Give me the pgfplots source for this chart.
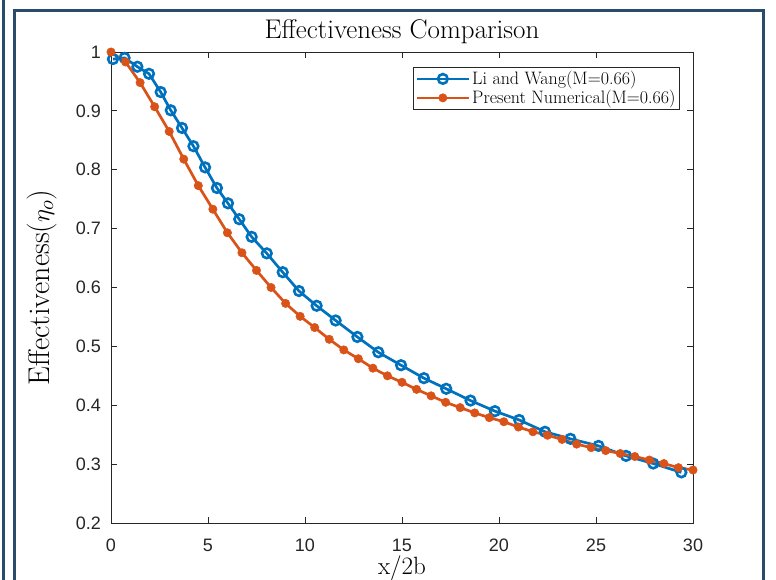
\documentclass[border=0pt]{standalone}
\usepackage{fontspec}
\usepackage{pgfplots}
\pgfplotsset{compat=1.18}
\newfontfamily\arial{Liberation Sans}
\definecolor{mblue}{RGB}{0,114,189}
\definecolor{morange}{RGB}{217,83,25}
\definecolor{framec}{RGB}{43,75,107}
\definecolor{axgray}{RGB}{38,38,38}

\pgfplotstableread{
x y
0.10 0.988
0.70 0.990
1.36 0.975
1.96 0.963
2.56 0.932
3.08 0.901
3.66 0.871
4.25 0.840
4.85 0.804
5.46 0.769
6.03 0.743
6.61 0.716
7.25 0.686
8.03 0.658
8.85 0.626
9.69 0.594
10.60 0.569
11.58 0.544
12.70 0.516
13.78 0.490
14.95 0.468
16.13 0.446
17.28 0.428
18.53 0.408
19.79 0.390
21.04 0.375
22.37 0.355
23.68 0.343
25.13 0.331
26.55 0.314
27.95 0.301
29.40 0.286
}\liwang

\pgfplotstableread{
x y
0.00 1.000
0.75 0.983
1.50 0.948
2.25 0.907
3.00 0.865
3.75 0.818
4.50 0.773
5.25 0.733
6.00 0.693
6.75 0.659
7.50 0.629
8.25 0.600
9.00 0.573
9.75 0.551
10.50 0.532
11.25 0.512
12.00 0.494
12.75 0.479
13.50 0.463
14.25 0.450
15.00 0.439
15.75 0.427
16.50 0.416
17.25 0.405
18.00 0.396
18.75 0.387
19.50 0.379
20.25 0.372
21.00 0.363
21.75 0.355
22.50 0.349
23.25 0.342
24.00 0.334
24.75 0.328
25.50 0.323
26.25 0.318
27.00 0.313
27.75 0.307
28.50 0.301
29.25 0.294
30.00 0.290
}\present

\begin{document}
\begin{tikzpicture}[x=1pt,y=1pt]
\path[use as bounding box] (0,0) rectangle (776,-580);
\fill[white] (0,0) rectangle (776,-580);
\draw[framec, line width=3pt] (3.5,0) -- (3.5,-580);
\draw[framec, line width=3pt] (14.5,-585) -- (14.5,-10.5) -- (763.5,-10.5) -- (763.5,-585);
\begin{axis}[
  at={(111pt,-523pt)}, anchor=south west,
  width=582pt, height=471pt, scale only axis,
  xmin=0, xmax=30, ymin=0.2, ymax=1,
  xtick={0,5,10,15,20,25,30},
  xticklabels={0,5,10,15,20,25,30},
  ytick={0.2,0.3,0.4,0.5,0.6,0.7,0.8,0.9,1},
  yticklabels={0.2,0.3,0.4,0.5,0.6,0.7,0.8,0.9,1},
  tick align=inside,
  xtick pos=both, ytick pos=both,
  xticklabel pos=lower, yticklabel pos=left,
  major tick length=6pt,
  axis line style={axgray, line width=0.9pt},
  every tick/.style={axgray, line width=0.9pt},
  tick label style={font=\arial\fontsize{18}{18}\selectfont, text=axgray, inner sep=0pt},
  xticklabel style={anchor=base, yshift=-28pt},
  yticklabel style={anchor=east, xshift=-10pt},
  title={Effectiveness Comparison},
  title style={font=\fontsize{27}{30}\selectfont, text=black, at={(axis description cs:0.5,1)}, anchor=base, yshift=8pt},
  xlabel={x/2b},
  ylabel={Effectiveness($\eta_o$)},
  xlabel style={font=\fontsize{25}{28}\selectfont, text=black, at={(axis description cs:0.5,-0.110)}, anchor=base},
  ylabel style={font=\fontsize{30}{33}\selectfont, text=black, at={(axis description cs:-0.1186,0.5)}, anchor=center},
  legend cell align=left,
  legend style={at={(1,1)}, anchor=north east, xshift=-13pt, yshift=-15pt,
    font=\fontsize{18}{20}\selectfont, draw=axgray, line width=0.8pt,
    inner sep=2pt, row sep=0pt},
  legend image code/.code={\draw[mark repeat=2,mark phase=2,#1] plot coordinates {(0pt,0pt) (26pt,0pt) (52pt,0pt)};},
]
\addplot[mblue, line width=2.7pt, mark=o, mark size=4.8pt, mark options={line width=2.6pt}] table[x=x,y=y] {\liwang};
\addlegendentry{Li and Wang(M=0.66)}
\addplot[morange, line width=2.7pt, mark=*, mark size=4.2pt, mark options={fill=morange, draw=morange, line width=0.5pt}] table[x=x,y=y] {\present};
\addlegendentry{Present Numerical(M=0.66)}
\end{axis}
\end{tikzpicture}
\end{document}
